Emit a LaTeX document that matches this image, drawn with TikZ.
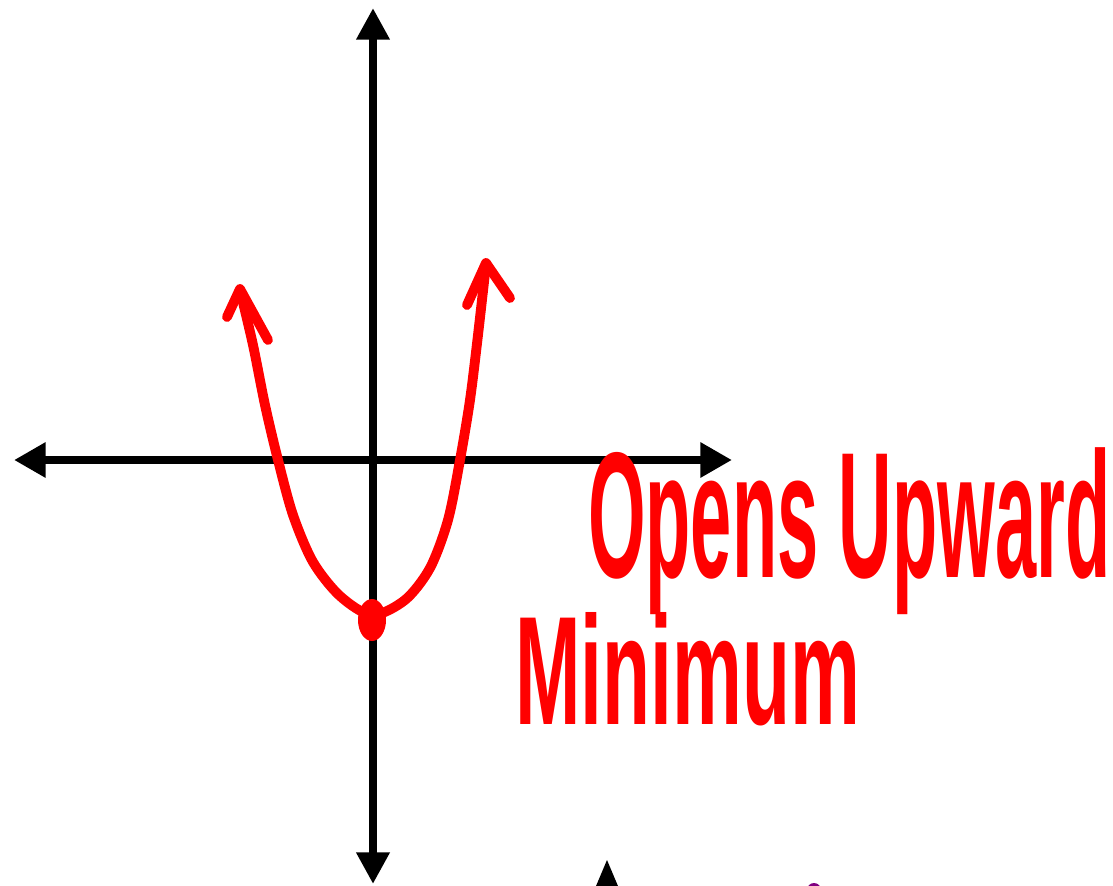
\documentclass[tikz,border=0pt]{standalone}
\usepackage{fontspec}
\setmainfont{Liberation Sans}
\usetikzlibrary{arrows.meta}

\begin{document}
\begin{tikzpicture}[x=0.02cm,y=-0.02cm]
  \useasboundingbox (0,0) rectangle (1113,886);
  \clip (0,0) rectangle (1113,886);
  % axes
  \draw[{Triangle[length=18pt,width=19pt]}-{Triangle[length=18pt,width=19pt]},line width=4.5pt]
    (14,460) -- (732,460);
  \draw[{Triangle[length=18pt,width=18pt]}-{Triangle[length=18pt,width=18pt]},line width=4.5pt]
    (373,8) -- (373,884);
  % parabola
  \draw[red,line width=5.6pt,line cap=round,line join=round]
    plot[smooth] coordinates {(240,290) (253,345) (265,405) (278,460) (293,515)
      (313,562) (340,596) (372,615) (405,600) (430,568) (448,520) (460,460)
      (470,400) (478,335) (486,264)};
  \draw[red,line width=5.6pt,line cap=round,line join=round]
    (227,317) -- (240,289) -- (268,340);
  \draw[red,line width=5.6pt,line cap=round,line join=round]
    (467,305) -- (486,263) -- (510,298);
  \fill[red] (372,620) ellipse [x radius=14,y radius=21];
  \coordinate (vertex) at (372,620);
  % labels
  \node[red,anchor=base west,inner sep=0pt,xscale=0.413,font=\fontsize{102}{102}\selectfont\bfseries]
    (opens) at (588,577) {Opens Upward};
  \node[red,anchor=base west,inner sep=0pt,xscale=0.508,font=\fontsize{88}{88}\selectfont\bfseries]
    (minimum) at (515,724) {Minimum};
  % cut off at the bottom edge
  \fill[black] (607,860) -- (588,905) -- (626,905) -- cycle;
  \fill[violet] (814,890) circle (7);
\end{tikzpicture}
\end{document}
